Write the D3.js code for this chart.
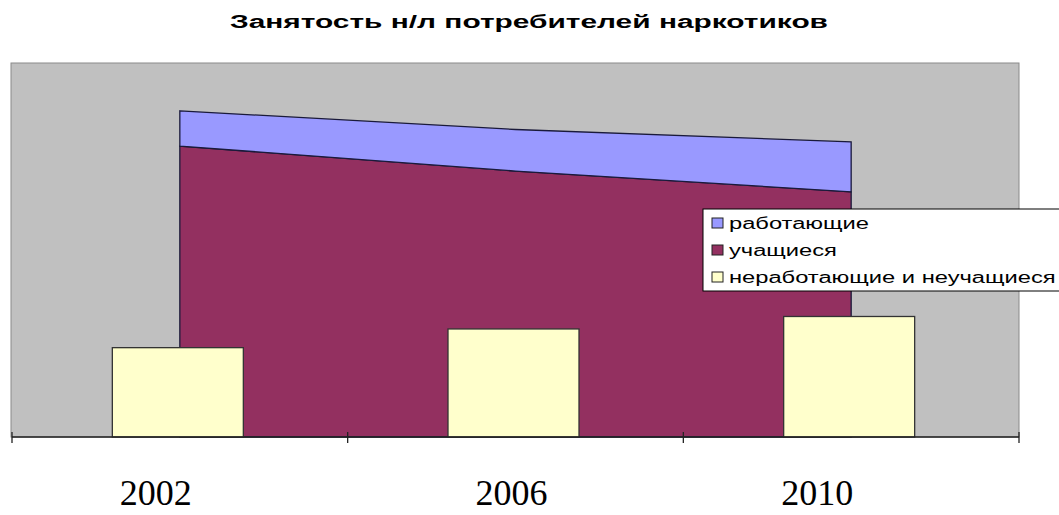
<!DOCTYPE html>
<html lang="ru">
<head>
<meta charset="UTF-8" />
<script src="https://d3js.org/d3.v7.min.js"></script>
<style type="text/css">
  body { margin: 0; background: #fff; }
  svg { display: block; }
</style>
<title>Занятость н/л потребителей наркотиков</title>
</head>
<body>
<script type="text/javascript">
  // Data (percent of users)
  var years = ["2002", "2006", "2010"];
  var working = [8.5, 10, 12];          // работающие
  var students = [70, 64, 59];          // учащиеся
  var idle = [21.5, 26, 29];            // неработающие и неучащиеся
  var seriesNames = ["работающие", "учащиеся", "неработающие и неучащиеся"];
  var yMax = 90;

  var W = 1059, H = 515;
  var plot = {left: 12, right: 1019, top: 63, bottom: 437};

  var svg = d3.select("body").append("svg")
      .attr("width", W)
      .attr("height", H);

  // Scales
  var xScale = d3.scaleBand()
      .domain(years)
      .range([plot.left, plot.right]);

  var yScale = d3.scaleLinear()
      .domain([0, yMax])
      .range([plot.bottom, plot.top]);

  var cx = function(y) { return xScale(y) + xScale.bandwidth() / 2; };

  // Plot area background
  svg.append("rect")
     .attr("x", plot.left - 1)
     .attr("y", plot.top)
     .attr("width", plot.right - plot.left + 1)
     .attr("height", plot.bottom - plot.top)
     .attr("fill", "#c0c0c0")
     .attr("stroke", "#8a8a8a")
     .attr("stroke-width", 1);

  // Stacked areas: students at the bottom, working on top
  var rows = years.map(function(y, i) {
    return {year: y, students: students[i], working: working[i]};
  });
  var stack = d3.stack().keys(["students", "working"])(rows);
  var areaColors = {students: "#933060", working: "#9999ff"};

  var area = d3.area()
      .x(function(d) { return cx(d.data.year); })
      .y0(function(d) { return yScale(d[0]); })
      .y1(function(d) { return yScale(d[1]); });

  stack.forEach(function(layer) {
    svg.append("path")
       .datum(layer)
       .attr("d", area)
       .attr("fill", areaColors[layer.key])
       .attr("stroke", "#1a1a3a")
       .attr("stroke-width", 1.3);
  });

  // Bars for idle users
  var barW = 131;
  svg.selectAll(".bar")
     .data(years)
     .enter()
     .append("rect")
     .attr("class", "bar")
     .attr("x", function(d) { return cx(d) - barW / 2 - 2; })
     .attr("width", barW)
     .attr("y", function(d, i) { return yScale(idle[i]); })
     .attr("height", function(d, i) { return plot.bottom - yScale(idle[i]); })
     .attr("fill", "#ffffcc")
     .attr("stroke", "#333")
     .attr("stroke-width", 1.3);

  // x axis with crossing ticks
  var axis = svg.append("g").attr("class", "x_axis");
  axis.append("line")
      .attr("x1", plot.left).attr("x2", plot.right)
      .attr("y1", plot.bottom).attr("y2", plot.bottom)
      .attr("stroke", "#222").attr("stroke-width", 1.3);
  var tickXs = years.map(function(y) { return xScale(y); }).concat([plot.right]);
  axis.selectAll(".tick")
      .data(tickXs)
      .enter()
      .append("line")
      .attr("x1", function(d) { return d; }).attr("x2", function(d) { return d; })
      .attr("y1", plot.bottom - 5).attr("y2", plot.bottom + 6)
      .attr("stroke", "#222").attr("stroke-width", 1.3);

  // Year labels (typed separately under the chart)
  var labelNudge = [-24, -4, -34];
  svg.selectAll(".year")
     .data(years)
     .enter()
     .append("text")
     .attr("class", "year")
     .attr("x", function(d, i) { return cx(d) + labelNudge[i]; })
     .attr("y", 505)
     .attr("text-anchor", "middle")
     .attr("font-family", "'Liberation Serif', 'Times New Roman', serif")
     .attr("font-size", "36px")
     .attr("fill", "#000")
     .text(function(d) { return d; });

  // Title (stretched horizontally like the original)
  svg.append("text")
     .attr("x", 230)
     .attr("y", 28)
     .attr("font-family", "'Liberation Sans', Arial, sans-serif")
     .attr("font-weight", "bold")
     .attr("font-size", "18px")
     .attr("textLength", 598)
     .attr("lengthAdjust", "spacingAndGlyphs")
     .attr("fill", "#000")
     .text("Занятость н/л потребителей наркотиков");

  // Legend
  var legend = svg.append("g").attr("class", "legend");
  legend.append("rect")
        .attr("x", 703).attr("y", 209)
        .attr("width", 400).attr("height", 82)
        .attr("fill", "#fff")
        .attr("stroke", "#000")
        .attr("stroke-width", 1);
  var legendColors = ["#9999ff", "#933060", "#ffffcc"];
  var rowY = [223, 250, 277];
  var items = legend.selectAll(".item")
      .data(seriesNames)
      .enter()
      .append("g")
      .attr("class", "item");
  items.append("rect")
       .attr("x", 712)
       .attr("y", function(d, i) { return rowY[i] - 5; })
       .attr("width", 11).attr("height", 10)
       .attr("fill", function(d, i) { return legendColors[i]; })
       .attr("stroke", "#222")
       .attr("stroke-width", 1);
  var labels = items.append("text")
       .attr("x", 729)
       .attr("y", function(d, i) { return rowY[i]; })
       .attr("dy", "0.36em")
       .attr("font-family", "'Liberation Sans', Arial, sans-serif")
       .attr("font-size", "16px")
       .attr("fill", "#000")
       .text(function(d) { return d; });
  // stretch all legend labels by the same factor as the first one (138px wide)
  var k = 140 / labels.nodes()[0].getComputedTextLength();
  labels.each(function() {
    var t = d3.select(this);
    t.attr("textLength", this.getComputedTextLength() * k)
     .attr("lengthAdjust", "spacingAndGlyphs");
  });
</script>
</body>
</html>
